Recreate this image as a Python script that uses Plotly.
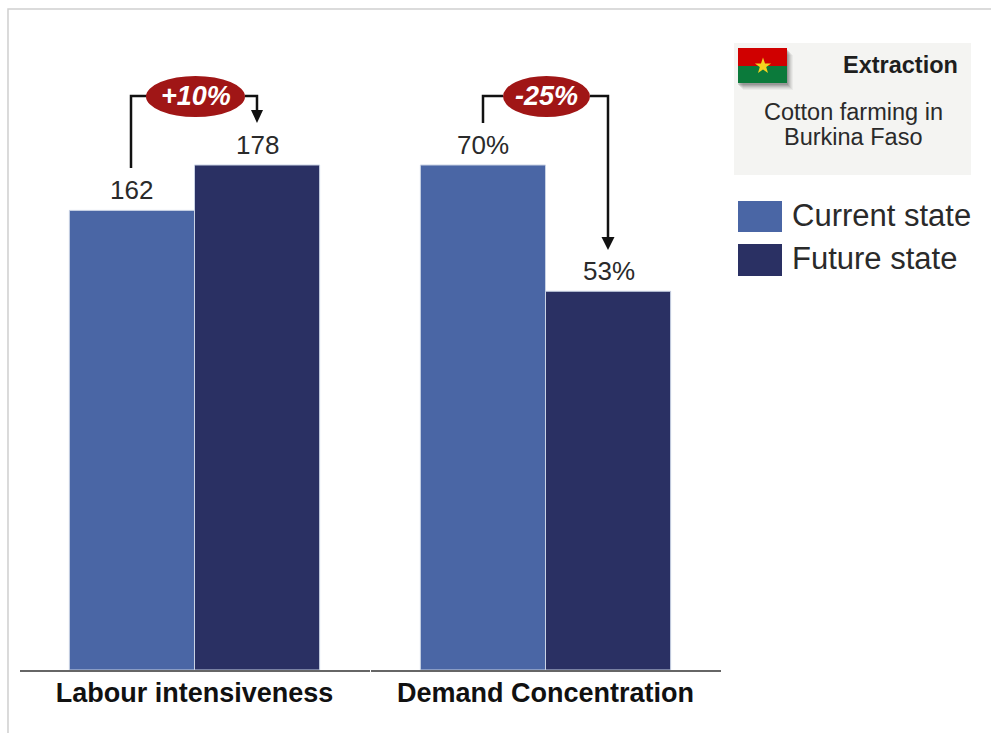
import plotly.graph_objects as go

W, H = 991, 733
FONT = "Liberation Sans"

groups = ["Labour intensiveness", "Demand Concentration"]
current_values = [162, 70]
future_values = [178, 52.5]
current_labels = ["162", "70%"]
future_labels = ["178", "53%"]
change_labels = ["+10%", "-25%"]
legend_names = ["Current state", "Future state"]
panel_title = "Extraction"
panel_lines = ["Cotton farming in", "Burkina Faso"]

C_CUR = "#4A66A5"
C_FUT = "#2A3063"
C_EDGE = "#C9D2E4"
C_PILL = "#A01616"
C_TEXT = "#2A2A2A"


def px(x):
    return x / W


def py(y):
    return 1 - y / H


fig = go.Figure()
annotations = []
for i, ax in enumerate(["", "2"]):
    for values, labels, name, color, shift in [
        (current_values, current_labels, legend_names[0], C_CUR, -63),
        (future_values, future_labels, legend_names[1], C_FUT, 63),
    ]:
        fig.add_trace(go.Bar(
            x=[groups[i]], y=[values[i]], name=name,
            marker=dict(color=color, line=dict(color=C_EDGE, width=1)),
            xaxis="x" + ax, yaxis="y" + ax, showlegend=False))
        annotations.append(dict(
            xref="x" + ax, yref="y" + ax, x=groups[i], y=values[i], text=labels[i],
            showarrow=False, xanchor="center", yanchor="bottom", xshift=shift, yshift=3,
            font=dict(family=FONT, size=26, color=C_TEXT)))

shapes = []


def rect(x0, y0, x1, y1, fill, layer="above", opacity=1):
    shapes.append(dict(type="rect", xref="paper", yref="paper", x0=px(x0), x1=px(x1),
                       y0=py(y0), y1=py(y1), fillcolor=fill, line=dict(width=0),
                       layer=layer, opacity=opacity))


def path(points, color=None, fill=None, width=2.5):
    d = "M " + " L ".join(f"{px(a):.5f} {py(b):.5f}" for a, b in points)
    if fill:
        d += " Z"
    shapes.append(dict(type="path", xref="paper", yref="paper", path=d,
                       fillcolor=fill, line=dict(color=color or fill, width=width if color else 0),
                       layer="above"))


def text(x, y, s, size, color=C_TEXT, bold=False, anchor="center"):
    annotations.append(dict(xref="paper", yref="paper", x=px(x), y=py(y), text=f"<b>{s}</b>" if bold else s,
                            showarrow=False, xanchor=anchor, yanchor="middle",
                            font=dict(family=FONT, size=size, color=color)))


# outer frame
path([(8, 733), (8, 9), (991, 9)], color="#CFCFCF", width=1.5)

# side panel
rect(734, 43, 971, 175, "#F4F4F2", layer="below")
for off, op in [(7, 0.05), (6, 0.07), (5, 0.09), (4, 0.12), (3, 0.15), (2, 0.18)]:
    rect(738 + off - 2, 48 + off, 787 + off - 1, 83 + off, "#444444", opacity=op)
rect(738, 48, 787, 66, "#D00000")
rect(738, 66, 787, 83, "#0B7A3B")
star = [(763, 57.5), (765, 63.4), (771.1, 63.4), (766.2, 67), (768, 72.9),
        (763, 69.4), (758, 72.9), (759.8, 67), (754.9, 63.4), (761, 63.4)]
path(star, fill="#F4D31F")
text(960, 65, panel_title, 23.5, color="#1E1E1E", bold=True, anchor="right")
text(853, 112, panel_lines[0], 23.5)
text(853, 137, panel_lines[1], 23.5)

# legend
rect(738, 201, 782, 232, C_CUR)
rect(738, 244, 782, 276, C_FUT)
text(790, 216, legend_names[0], 31, anchor="left")
text(790, 258, legend_names[1], 31, anchor="left")

# change connectors
LINE = "#111111"
path([(131, 168), (131, 96), (147, 96)], color=LINE)
path([(245, 96), (257, 96), (257, 112)], color=LINE)
path([(251, 110), (263, 110), (257, 123)], fill="#111111")
path([(483, 123), (483, 96), (503, 96)], color=LINE)
path([(590, 96), (608, 96), (608, 238)], color=LINE)
path([(601.5, 237), (614.5, 237), (608, 250)], fill="#111111")

for (cx, rx), lab in zip([(195.5, 49.5), (546.5, 43.5)], change_labels):
    shapes.append(dict(type="circle", xref="paper", yref="paper", x0=px(cx - rx), x1=px(cx + rx),
                       y0=py(117), y1=py(76), fillcolor=C_PILL, line=dict(width=0), layer="above"))
    text(cx, 95.5, f"<i>{lab}</i>", 27, color="#FFFFFF", bold=True)

AX = dict(showline=True, linecolor="#666666", linewidth=2, ticks="", showgrid=False, ticklabelstandoff=-2,
          tickfont=dict(family=FONT, size=27, color="#111111", weight="bold"), type="category")
YA = dict(visible=False, domain=[py(670), 1])
SCALE = 670 / 505

fig.update_layout(
    width=W, height=H, margin=dict(l=0, r=0, t=0, b=0, autoexpand=False),
    paper_bgcolor="white", plot_bgcolor="white", showlegend=False,
    barmode="group", bargap=0.285, bargroupgap=0,
    xaxis=dict(domain=[px(19.5), px(369.5)], **AX),
    xaxis2=dict(domain=[px(370.5), px(720.5)], **AX),
    yaxis=dict(range=[0, max(current_values[0], future_values[0]) * SCALE], anchor="x", **YA),
    yaxis2=dict(range=[0, max(current_values[1], future_values[1]) * SCALE], anchor="x2", **YA),
    shapes=shapes, annotations=annotations,
)

fig.write_html("out.html", config=dict(displayModeBar=False),
               post_script="document.body.style.margin='0';document.documentElement.style.overflow='hidden';window.dispatchEvent(new Event('resize'));")
